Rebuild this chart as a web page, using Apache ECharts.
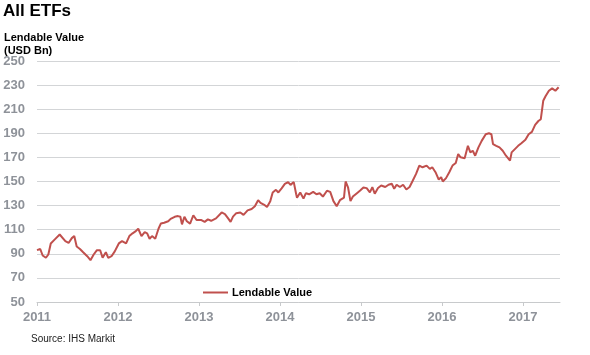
<!DOCTYPE html>
<html>
<head>
<meta charset="utf-8">
<script src="https://cdn.jsdelivr.net/npm/echarts@6/dist/echarts.min.js"></script>
<style>html,body{margin:0;padding:0;background:#fff}#c{width:590px;height:355px}</style>
</head>
<body>
<div id="c"></div>
<script>
// Decimal-year dates and lendable value (USD Bn)
const dates = [2011.00,2011.04,2011.07,2011.11,2011.14,2011.17,2011.22,2011.28,2011.30,2011.35,2011.39,2011.43,2011.46,2011.49,2011.53,2011.57,2011.62,2011.66,2011.70,2011.74,2011.78,2011.81,2011.85,2011.88,2011.92,2011.96,
2012.01,2012.05,2012.10,2012.14,2012.18,2012.22,2012.25,2012.29,2012.33,2012.36,2012.39,2012.42,2012.46,2012.50,2012.53,2012.57,2012.62,2012.65,2012.70,2012.74,2012.77,2012.79,2012.82,2012.85,2012.89,2012.93,2012.97,
2013.03,2013.07,2013.11,2013.15,2013.21,2013.28,2013.32,2013.36,2013.39,2013.42,2013.46,2013.51,2013.55,2013.60,2013.65,2013.69,2013.73,2013.76,2013.80,2013.84,2013.88,2013.91,2013.95,2013.98,
2014.02,2014.06,2014.10,2014.13,2014.17,2014.20,2014.21,2014.25,2014.29,2014.32,2014.36,2014.41,2014.45,2014.49,2014.53,2014.58,2014.62,2014.66,2014.70,2014.74,2014.79,2014.81,2014.84,2014.87,2014.90,2014.95,2014.99,
2015.03,2015.07,2015.11,2015.14,2015.17,2015.21,2015.25,2015.30,2015.34,2015.38,2015.41,2015.44,2015.48,2015.52,2015.56,2015.60,2015.64,2015.68,2015.72,2015.76,2015.81,2015.85,2015.88,2015.92,2015.96,2015.99,
2016.01,2016.05,2016.09,2016.13,2016.17,2016.20,2016.23,2016.28,2016.32,2016.35,2016.38,2016.41,2016.45,2016.49,2016.54,2016.58,2016.61,2016.63,2016.67,2016.71,2016.75,2016.79,2016.84,2016.86,2016.90,2016.94,2016.98,
2017.03,2017.07,2017.11,2017.15,2017.19,2017.22,2017.25,2017.28,2017.32,2017.36,2017.40,2017.44];
const values = [93,94,88.6,86.7,89.4,98.6,102,106,105,100.5,99,103,104.7,96,94,91.3,88,84.7,89.4,93,93,86.7,91.3,86.7,88,92,
98.6,100.5,98.6,104.7,107,108.8,110.8,104.7,108,107,102.5,104.7,102.5,110.8,115.2,115.8,117,119,120.7,121.3,120.7,114.4,120.7,117,115,122,118,
118,116.5,118.6,117.4,119.4,124.3,123,119.4,116.5,120.8,123.7,124.3,122.3,126,127.2,129.4,134.5,132.3,130.9,128.9,133.7,140.9,143.1,140.9,
144.3,148,149.5,147.2,149.5,139.4,136.6,140.9,135.8,140.3,139.4,141.4,139.4,140.3,137.5,142.3,141.4,133.7,129.4,134.5,136.6,150,145.2,133.7,137.5,140.3,142.5,
145,144.5,141,145.4,139.9,144.6,146.7,145.4,147.3,148.1,144,147.3,145.4,147.3,143.4,145.4,150.8,156.3,163.2,161.8,163.2,160.5,161.8,157.7,151.6,153.6,
150,152.8,157.7,163.2,165.4,172.8,170.1,169.3,179.6,174.2,175.5,171.4,178.3,183.7,189.2,190,189.2,181,179.6,178.3,175.5,171.4,167.3,174.2,176.9,179.6,181.8,
184.6,189.2,191.2,197,200.2,201.7,217,221,225.3,227.3,225.3,228.2];
const yearTicks = [2011,2012,2013,2014,2015,2016,2017];
const seriesName = 'Lendable Value';

const chart = echarts.init(document.getElementById('c'), null, {renderer:'canvas'});
const ff = 'Liberation Sans, Arial, sans-serif';
const lbl = {color:'#8e9299', fontWeight:'bold', fontSize:13, fontFamily:ff};
chart.setOption({
  animation:false,
  backgroundColor:'#fff',
  title:[
    {text:'All ETFs', left:3, top:3, padding:0, textStyle:{fontSize:17, fontWeight:'bold', color:'#000', fontFamily:ff}},
    {text:'Lendable Value\n(USD Bn)', left:4, top:31, padding:0, textStyle:{fontSize:11, fontWeight:'bold', color:'#000', lineHeight:13, fontFamily:ff}},
    {text:'Source: IHS Markit', left:31, top:334, padding:0, textStyle:{fontSize:10, fontWeight:'normal', color:'#222', fontFamily:ff}}
  ],
  legend:{
    data:[{name:seriesName, icon:'rect'}], left:203, top:287, padding:0, itemWidth:25, itemHeight:2, itemGap:4,
    textStyle:{fontSize:11, fontWeight:'bold', color:'#000', fontFamily:ff, padding:[0,0,0,-1]}
  },
  grid:{left:37, right:30, top:61, bottom:53, containLabel:false},
  xAxis:{
    type:'value', min:2011, max:2017.457,
    axisLine:{show:true, lineStyle:{color:'#c8cacc', width:1}},
    axisTick:{show:true, length:4, customValues:yearTicks, lineStyle:{color:'#c8cacc'}},
    axisLabel:Object.assign({customValues:yearTicks, margin:9, formatter:v=>String(Math.round(v))}, lbl),
    splitLine:{show:false}
  },
  yAxis:{
    type:'value', min:50, max:250, interval:20,
    axisLine:{show:false}, axisTick:{show:false},
    axisLabel:Object.assign({margin:12}, lbl),
    splitLine:{show:true, lineStyle:{color:'#d3d5d7', width:1}}
  },
  series:[{
    name:seriesName, type:'line', symbol:'none',
    data:dates.map((d,i)=>[d, values[i]]),
    lineStyle:{color:'#c0504d', width:2}, itemStyle:{color:'#c0504d'}
  }]
});
</script>
</body>
</html>
